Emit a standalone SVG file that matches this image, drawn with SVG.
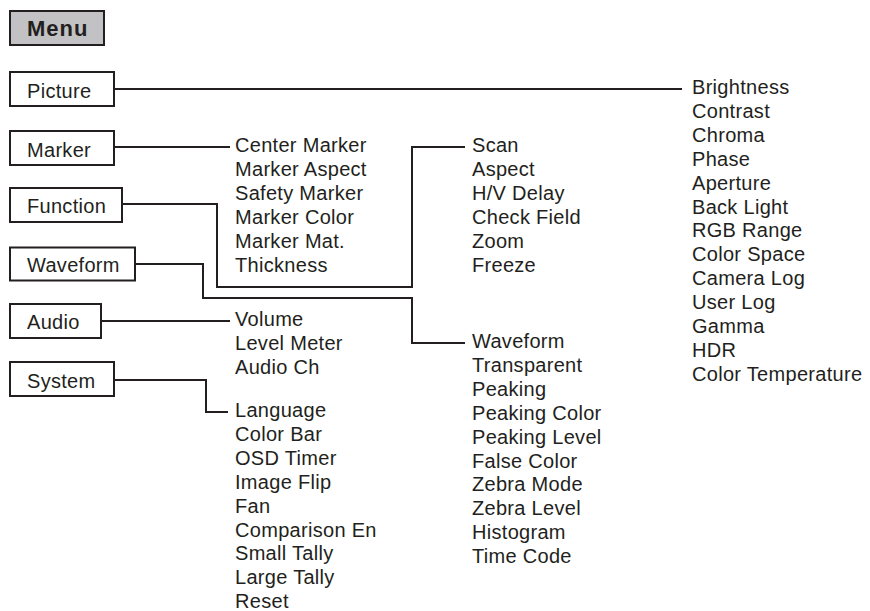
<svg xmlns="http://www.w3.org/2000/svg" width="870" height="611" viewBox="0 0 870 611">
<style>
.box{fill:#ffffff;stroke:#231f20;stroke-width:2}
.menu{fill:#c2c2c4;stroke:#231f20;stroke-width:2}
.lbl{font-family:"Liberation Sans",Arial,sans-serif;font-size:20px;fill:#231f20;letter-spacing:0.3px}
.mt{font-family:"Liberation Sans",Arial,sans-serif;font-size:22px;font-weight:bold;fill:#231f20;letter-spacing:1px}
.ln{fill:none;stroke:#231f20;stroke-width:2}
</style>
<rect width="870" height="611" fill="#ffffff"/>
<g id="menu"><rect class="menu" x="10" y="11" width="94" height="34"/><text class="mt" x="27" y="36">Menu</text></g>
<g id="picture"><rect class="box" x="10" y="72" width="104" height="34"/><text class="lbl" x="27" y="98">Picture</text></g>
<g id="marker"><rect class="box" x="10" y="131" width="104" height="34"/><text class="lbl" x="27" y="157">Marker</text></g>
<g id="function"><rect class="box" x="10" y="188" width="112" height="34"/><text class="lbl" x="27" y="213">Function</text></g>
<g id="waveform"><rect class="box" x="10" y="247.5" width="125" height="33"/><text class="lbl" x="27" y="272">Waveform</text></g>
<g id="audio"><rect class="box" x="10" y="304" width="91" height="34"/><text class="lbl" x="27" y="329">Audio</text></g>
<g id="system"><rect class="box" x="10" y="362" width="104" height="34"/><text class="lbl" x="27" y="388">System</text></g>
<g id="connectors">
<path class="ln" d="M115 89H682"/>
<path class="ln" d="M115 147H230"/>
<path class="ln" d="M123 204H217V287H412V147H465"/>
<path class="ln" d="M136 264H203V298H412V343H465"/>
<path class="ln" d="M102 321H230"/>
<path class="ln" d="M115 380H206V412H228"/>
</g>
<g id="picture-items" class="lbl">
<text class="lbl" x="692" y="94">Brightness</text>
<text class="lbl" x="692" y="117.9">Contrast</text>
<text class="lbl" x="692" y="141.8">Chroma</text>
<text class="lbl" x="692" y="165.7">Phase</text>
<text class="lbl" x="692" y="189.6">Aperture</text>
<text class="lbl" x="692" y="213.5">Back Light</text>
<text class="lbl" x="692" y="237.4">RGB Range</text>
<text class="lbl" x="692" y="261.3">Color Space</text>
<text class="lbl" x="692" y="285.2">Camera Log</text>
<text class="lbl" x="692" y="309.1">User Log</text>
<text class="lbl" x="692" y="333">Gamma</text>
<text class="lbl" x="692" y="356.9">HDR</text>
<text class="lbl" x="692" y="380.8">Color Temperature</text>
</g>
<g id="marker-items">
<text class="lbl" x="235" y="152">Center Marker</text>
<text class="lbl" x="235" y="175.9">Marker Aspect</text>
<text class="lbl" x="235" y="199.8">Safety Marker</text>
<text class="lbl" x="235" y="223.7">Marker Color</text>
<text class="lbl" x="235" y="247.6">Marker Mat.</text>
<text class="lbl" x="235" y="271.5">Thickness</text>
</g>
<g id="function-items">
<text class="lbl" x="472" y="152">Scan</text>
<text class="lbl" x="472" y="175.9">Aspect</text>
<text class="lbl" x="472" y="199.8">H/V Delay</text>
<text class="lbl" x="472" y="223.7">Check Field</text>
<text class="lbl" x="472" y="247.6">Zoom</text>
<text class="lbl" x="472" y="271.5">Freeze</text>
</g>
<g id="waveform-items">
<text class="lbl" x="472" y="348">Waveform</text>
<text class="lbl" x="472" y="371.9">Transparent</text>
<text class="lbl" x="472" y="395.8">Peaking</text>
<text class="lbl" x="472" y="419.7">Peaking Color</text>
<text class="lbl" x="472" y="443.6">Peaking Level</text>
<text class="lbl" x="472" y="467.5">False Color</text>
<text class="lbl" x="472" y="491.4">Zebra Mode</text>
<text class="lbl" x="472" y="515.3">Zebra Level</text>
<text class="lbl" x="472" y="539.2">Histogram</text>
<text class="lbl" x="472" y="563.1">Time Code</text>
</g>
<g id="audio-items">
<text class="lbl" x="235" y="326">Volume</text>
<text class="lbl" x="235" y="349.9">Level Meter</text>
<text class="lbl" x="235" y="373.8">Audio Ch</text>
</g>
<g id="system-items">
<text class="lbl" x="235" y="417">Language</text>
<text class="lbl" x="235" y="440.9">Color Bar</text>
<text class="lbl" x="235" y="464.8">OSD Timer</text>
<text class="lbl" x="235" y="488.7">Image Flip</text>
<text class="lbl" x="235" y="512.6">Fan</text>
<text class="lbl" x="235" y="536.5">Comparison En</text>
<text class="lbl" x="235" y="560.4">Small Tally</text>
<text class="lbl" x="235" y="584.3">Large Tally</text>
<text class="lbl" x="235" y="608.2">Reset</text>
</g>
</svg>
